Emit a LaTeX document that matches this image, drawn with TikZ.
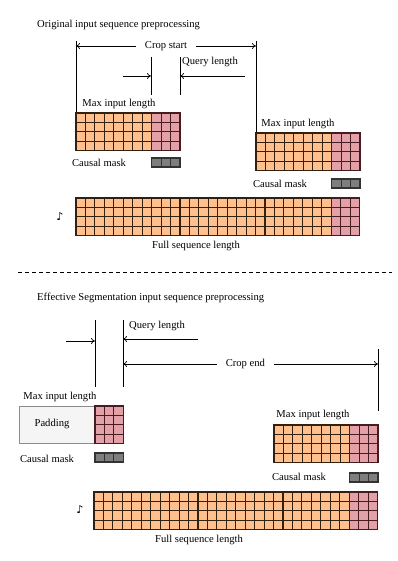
\documentclass[tikz,border=0pt]{standalone}
\usepackage{fontspec}
\setmainfont{Liberation Serif}
\newfontfamily\symfont{DejaVu Sans}
\usetikzlibrary{arrows.meta,calc}
\definecolor{tokfill}{HTML}{FFC08E}
\definecolor{tokline}{HTML}{33200F}
\definecolor{mskfill}{HTML}{E3A0A6}
\definecolor{mskline}{HTML}{451C22}
\definecolor{cmfill} {HTML}{7E7E7E}
\definecolor{cmline} {HTML}{333333}
\definecolor{padfill}{HTML}{F5F5F5}
\definecolor{padline}{HTML}{8C8C8C}
\tikzset{
  every node/.style={font=\fontsize{10.6}{12}\selectfont, inner sep=0pt},
  % --- cells
  tok/.style  = {draw=tokline, fill=tokfill, line width=1.1pt},
  msk/.style  = {draw=mskline, fill=mskfill, line width=1.1pt},
  cmbox/.style= {draw=cmline, fill=cmfill, line width=1.1pt},
  pad/.style  = {draw=padline, fill=padfill, line width=0.6pt},
  % --- lines
  vline/.style= {line width=0.8pt},
  dim/.style  = {-{To[length=4pt,width=6pt]}, line width=0.7pt},
  twodim/.style={{To[length=4pt,width=6pt]}-{To[length=4pt,width=6pt]}, line width=0.7pt},
  gap/.style  = {fill=white, inner xsep=9pt, inner ysep=2pt},
}
\def\cw{9.45}
\newcommand{\tokcells}[3]{%
  \foreach \c in {1,...,#3}
    \foreach \r in {0,...,3}
      \draw[tok] ({#1+(\c-1)*\cw},{#2+\r*\cw}) rectangle +(\cw,\cw);}
\newcommand{\mskcells}[3]{%
  \foreach \c in {1,...,#3}
    \foreach \r in {0,...,3}
      \draw[msk] ({#1+(\c-1)*\cw},{#2+\r*\cw}) rectangle +(\cw,\cw);}
\newcommand{\cmcells}[2]{%
  \foreach \c in {1,2,3}
    \draw[cmbox] ({#1+(\c-1)*\cw},#2) rectangle +(\cw,9);}

\begin{document}
\begin{tikzpicture}[x=1pt,y=-1pt]
  \useasboundingbox (0,0) rectangle (397,561);

  % ---------- original preprocessing
  \node[anchor=west] (ttlA) at (37,25) {Original input sequence preprocessing};

  \coordinate (a0t) at (76,41);  \coordinate (a0b) at (76,113);
  \coordinate (a1t) at (256,41); \coordinate (a1b) at (256,133);
  \coordinate (q0t) at (151,57); \coordinate (q0b) at (151,95);
  \coordinate (q1t) at (180,57); \coordinate (q1b) at (180,95);
  \draw[vline] (a0t) -- (a0b);
  \draw[vline] (a1t) -- (a1b);
  \draw[vline] (q0t) -- (q0b);
  \draw[vline] (q1t) -- (q1b);

  \coordinate (cs0) at (76,46); \coordinate (cs1) at (256,46);
  \draw[twodim] (cs0) -- node[gap] (cropA) {Crop start} (cs1);

  \coordinate (qa) at (123,76); \coordinate (qb) at (151,76);
  \coordinate (qc) at (245,76); \coordinate (qd) at (180,76);
  \draw[dim] (qa) -- (qb);
  \draw[dim] (qc) -- (qd);
  \node (qlenA) at (210,62) {Query length};

  \node (maxA) at (119,104) {Max input length};
  \tokcells{76}{113}{8}
  \mskcells{151.6}{113}{3}
  \node (cmA) at (99,163) {Causal mask};
  \cmcells{151.6}{158}

  \node (maxB) at (298,124) {Max input length};
  \tokcells{256}{133}{8}
  \mskcells{331.6}{133}{3}
  \node (cmB) at (280,184) {Causal mask};
  \cmcells{331.6}{179}

  \node (noteA) at (60,217) {\symfont\fontsize{11}{12}\selectfont ♪};
  \tokcells{76}{198}{27}
  \mskcells{331.15}{198}{3}
  \node (fullA) at (196,246) {Full sequence length};

  % ---------- separator
  \coordinate (sep0) at (18,272); \coordinate (sep1) at (392,272);
  \draw[line width=0.6pt, dash pattern=on 4pt off 3pt] (sep0) -- (sep1);

  % ---------- effective segmentation
  \node[anchor=west] (ttlB) at (37,298) {Effective Segmentation input sequence preprocessing};

  \coordinate (e0t) at (95,320);  \coordinate (e0b) at (95,387);
  \coordinate (e1t) at (123,320); \coordinate (e1b) at (123,387);
  \coordinate (e2t) at (378,349); \coordinate (e2b) at (378,411);
  \draw[vline] (e0t) -- (e0b);
  \draw[vline] (e1t) -- (e1b);
  \draw[vline] (e2t) -- (e2b);

  \coordinate (ea) at (66,341);  \coordinate (eb) at (95,341);
  \coordinate (ec) at (198,339); \coordinate (ed) at (123,339);
  \draw[dim] (ea) -- (eb);
  \draw[dim] (ec) -- (ed);
  \node (qlenB) at (157,326) {Query length};

  \coordinate (ce0) at (123,364); \coordinate (ce1) at (378,364);
  \draw[twodim] (ce0) -- node[gap, pos=0.48] (cropB) {Crop end} (ce1);

  \node (maxC) at (60,397) {Max input length};
  \draw[pad] (19,406) rectangle (95,443);
  \node (padC) at (52,424) {Padding};
  \mskcells{95}{406}{3}
  \node (cmC) at (47,459) {Causal mask};
  \cmcells{95}{453}

  \node (maxD) at (313,415) {Max input length};
  \tokcells{274}{425}{8}
  \mskcells{349.6}{425}{3}
  \node (cmD) at (299,477) {Causal mask};
  \cmcells{349.6}{473}

  \node (noteB) at (80,510) {\symfont\fontsize{11}{12}\selectfont ♪};
  \tokcells{94}{492}{27}
  \mskcells{349.15}{492}{3}
  \node (fullB) at (199,540) {Full sequence length};
\end{tikzpicture}
\end{document}
